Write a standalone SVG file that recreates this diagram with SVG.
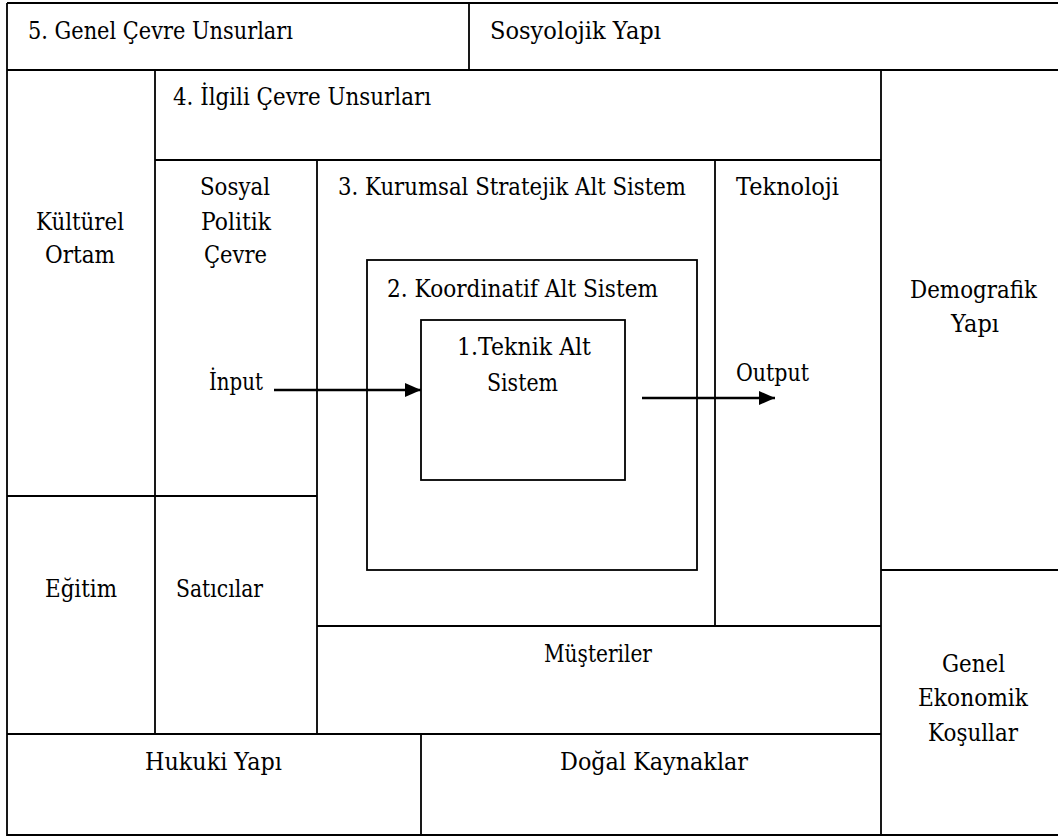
<svg xmlns="http://www.w3.org/2000/svg" width="1058" height="837" viewBox="0 0 1058 837">
<style>
.ln{stroke:#000;stroke-width:1.8;fill:none}
.bx{stroke:#000;stroke-width:1.8;fill:none}
text{font-family:'DejaVu Serif','Liberation Serif',serif;font-size:23.5px;fill:#000}
.ar{stroke:#000;stroke-width:2.4;fill:none}
</style>
<defs>
<marker id="ah" viewBox="0 0 16 14" refX="16" refY="7" markerWidth="16" markerHeight="14" markerUnits="userSpaceOnUse" orient="auto">
<path d="M0,0 L16,7 L0,14 Z" fill="#000"/>
</marker>
</defs>
<rect width="1058" height="837" fill="#fff"/>
<g id="grid">
<path class="ln" d="M7,3 H1058 M7,3 V835 H1058 M7,70 H1058 M469,3 V70 M155,70 V734 M881,70 V835 M155,160 H881 M317,160 V734 M715,160 V626 M7,496 H317 M317,626 H881 M7,734 H881 M421,734 V835 M881,570 H1058"/>
</g>
<g id="genel-cevre"><text x="28" y="39" textLength="265" lengthAdjust="spacingAndGlyphs">5. Genel Çevre Unsurları</text></g>
<g id="sosyolojik"><text x="490" y="39" textLength="171" lengthAdjust="spacingAndGlyphs">Sosyolojik Yapı</text></g>
<g id="ilgili-cevre"><text x="173" y="105" textLength="258" lengthAdjust="spacingAndGlyphs">4. İlgili Çevre Unsurları</text></g>
<g id="kulturel"><text x="36" y="230" textLength="88" lengthAdjust="spacingAndGlyphs">Kültürel</text><text x="45" y="263" textLength="70" lengthAdjust="spacingAndGlyphs">Ortam</text></g>
<g id="sosyal-politik"><text x="200" y="195" textLength="70" lengthAdjust="spacingAndGlyphs">Sosyal</text><text x="201" y="230" textLength="70" lengthAdjust="spacingAndGlyphs">Politik</text><text x="204" y="263" textLength="63" lengthAdjust="spacingAndGlyphs">Çevre</text></g>
<g id="kurumsal"><text x="338" y="195" textLength="348" lengthAdjust="spacingAndGlyphs">3. Kurumsal Stratejik Alt Sistem</text></g>
<g id="teknoloji"><text x="736" y="195" textLength="103" lengthAdjust="spacingAndGlyphs">Teknoloji</text></g>
<g id="koordinatif"><rect class="bx" x="367" y="260" width="330" height="310"/><text x="387" y="297" textLength="271" lengthAdjust="spacingAndGlyphs">2. Koordinatif Alt Sistem</text></g>
<g id="teknik"><rect class="bx" x="421" y="320" width="204" height="160"/><text x="457" y="355" textLength="134" lengthAdjust="spacingAndGlyphs">1.Teknik Alt</text><text x="487" y="391" textLength="71" lengthAdjust="spacingAndGlyphs">Sistem</text></g>
<g id="input"><text x="209" y="390" textLength="54" lengthAdjust="spacingAndGlyphs">İnput</text></g>
<g id="output"><text x="736" y="381" textLength="73" lengthAdjust="spacingAndGlyphs">Output</text></g>
<g id="demografik"><text x="910" y="298" textLength="127" lengthAdjust="spacingAndGlyphs">Demografik</text><text x="951" y="332" textLength="48" lengthAdjust="spacingAndGlyphs">Yapı</text></g>
<g id="egitim"><text x="45" y="597" textLength="72" lengthAdjust="spacingAndGlyphs">Eğitim</text></g>
<g id="saticilar"><text x="176" y="597" textLength="87" lengthAdjust="spacingAndGlyphs">Satıcılar</text></g>
<g id="musteriler"><text x="544" y="662" textLength="108" lengthAdjust="spacingAndGlyphs">Müşteriler</text></g>
<g id="ekonomik"><text x="942" y="672" textLength="63" lengthAdjust="spacingAndGlyphs">Genel</text><text x="918" y="706" textLength="110" lengthAdjust="spacingAndGlyphs">Ekonomik</text><text x="928" y="741" textLength="90" lengthAdjust="spacingAndGlyphs">Koşullar</text></g>
<g id="hukuki"><text x="145" y="770" textLength="137" lengthAdjust="spacingAndGlyphs">Hukuki Yapı</text></g>
<g id="dogal"><text x="560" y="770" textLength="188" lengthAdjust="spacingAndGlyphs">Doğal Kaynaklar</text></g>
<g id="connectors">
<line class="ar" x1="274" y1="390" x2="421" y2="390" marker-end="url(#ah)"/>
<line class="ar" x1="642" y1="398" x2="775" y2="398" marker-end="url(#ah)"/>
</g>
</svg>
